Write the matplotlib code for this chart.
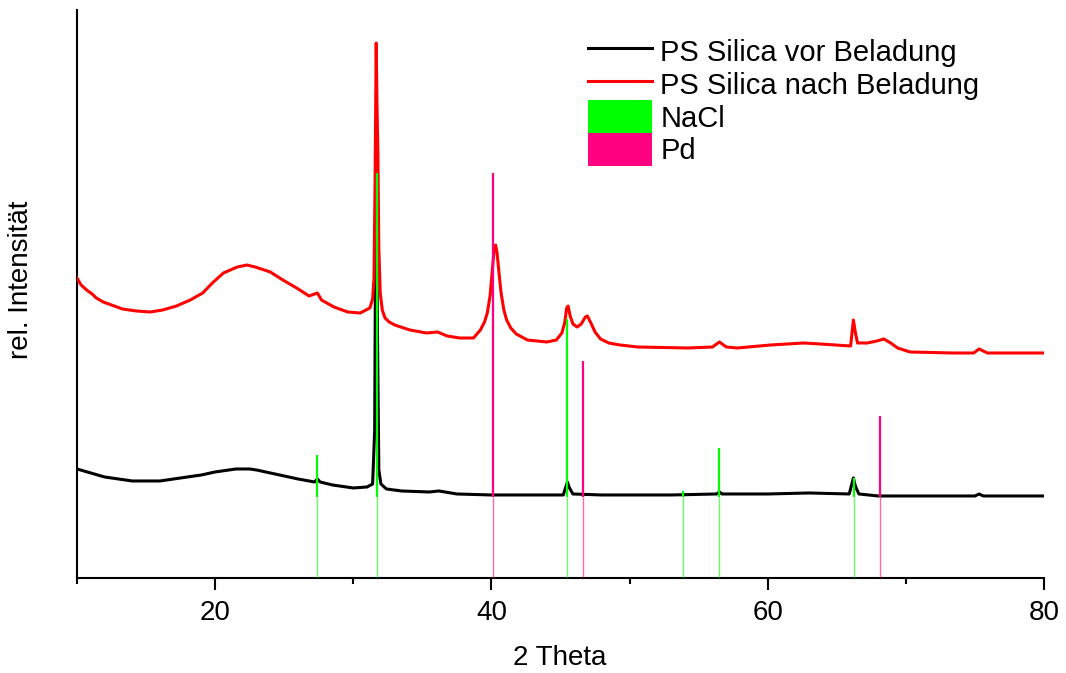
#encoding=utf-8

"""
    XRD-Diffraktogramme PS Silica vor/nach Beladung mit Referenzlinien NaCl und Pd
"""
import matplotlib
matplotlib.use("Agg")
import matplotlib.pyplot as plt
import matplotlib.patches as mpatches
from matplotlib.ticker import FixedLocator

plt.rcParams['font.family'] = ['Liberation Sans', 'DejaVu Sans']

# PS Silica vor Beladung (2 Theta, rel. Intensitaet)
theta_vor = [10, 10.5, 11, 12, 13, 14, 15, 16, 17, 18, 19, 20, 21, 21.5, 22.5, 23,
             24, 25, 26, 27.2, 27.4, 27.6, 28.5, 30, 31, 31.4, 31.55, 31.65, 31.75,
             31.85, 32.0, 32.4, 33.5, 35.5, 36.2, 37.5, 40, 45.2, 45.5, 45.65, 45.9,
             48, 53, 56.3, 56.5, 56.7, 60, 63, 65.9, 66.2, 66.3, 66.4, 66.6, 68, 75,
             75.3, 75.6, 80]
int_vor = [109, 107, 105, 101, 99, 97, 97, 97, 99, 101, 103, 106, 108, 109, 109, 108,
           105, 102, 99, 96, 99, 96, 93, 90, 91, 94, 148, 438, 248,
           108, 94, 89, 87, 86, 87, 84, 83, 83, 96, 90, 84,
           83, 83, 84, 86, 84, 84, 85, 84, 100, 94, 90, 84, 82, 82,
           84, 82, 82]

# PS Silica nach Beladung
theta_nach = [10.0, 10.3, 10.7, 11.1, 11.4, 11.9, 12.7, 13.3, 14.3, 15.3, 16.2,
              17.2, 18.2, 19.1, 19.8, 20.6, 21.6, 22.3, 22.9, 24.0, 24.9, 25.9,
              26.8, 27.4, 27.7, 28.6, 29.6, 30.5, 31.2, 31.4, 31.5, 31.58, 31.66,
              31.72, 31.78, 31.85, 31.95, 32.1, 32.3, 32.6, 33.0, 34.1, 35.3, 36.1,
              36.8, 37.7, 38.7, 39.2, 39.5, 39.7, 39.9, 40.05, 40.2, 40.3, 40.4,
              40.55, 40.7, 40.9, 41.1, 41.4, 41.8, 42.6, 44.0, 44.7, 45.1, 45.3,
              45.45, 45.55, 45.7, 45.9, 46.2, 46.5, 46.8, 46.95, 47.2, 47.5, 47.9,
              48.5, 49.3, 50.6, 54.2, 56.0, 56.5, 57.0, 57.8, 60.2, 62.6, 63.8,
              66.0, 66.2, 66.35, 66.5, 67.2, 67.9, 68.4, 68.9, 69.4, 70.3, 73.4,
              74.9, 75.3, 75.9, 80]
int_nach = [300, 293, 288, 284, 280, 276, 272, 269, 267, 266, 268,
            272, 278, 285, 295, 305, 311, 313, 311, 306, 298, 290,
            282, 285, 278, 271, 266, 265, 270, 279, 300, 400, 535,
            470, 428, 330, 285, 268, 260, 256, 253, 248, 245, 246,
            242, 240, 240, 248, 256, 265, 282, 305, 330, 333, 326,
            305, 285, 268, 258, 250, 244, 238, 236, 238, 245, 255,
            270, 272, 262, 254, 251, 254, 261, 262, 255, 246, 239,
            235, 233, 231, 230, 231, 236, 231, 230, 233, 235, 234,
            232, 258, 245, 235, 235, 237, 239, 235, 230, 226, 225,
            225, 229, 225, 225]

# Referenzlinien (relative Intensitaet in %)
nacl_theta = [27.37, 31.70, 45.45, 53.87, 56.47, 66.22]
nacl_rel = [13, 100, 55, 2, 15, 6]
pd_theta = [40.12, 46.66, 68.12]
pd_rel = [100, 42, 25]

GREEN = '#00ff00'
PINK = '#ff0080'


def drawSticks(ax, theta, rel, color, base=81, scale=324):
    """
    Referenzlinien: duenn bis zur Basislinie, darueber dick
    """
    tops = [base + r / 100.0 * scale for r in rel]
    ax.vlines(theta, 0, base, color=color, linewidth=1.0, alpha=0.6, zorder=4)
    ax.vlines(theta, base, tops, color=color, linewidth=1.6, zorder=4)


def plotXRD():
    fig = plt.figure(figsize=(10.66, 6.73), dpi=100)
    ax = fig.add_axes([0.0722, 0.1412, 0.9072, 0.8439])

    ax.plot(theta_vor, int_vor, color='black', linewidth=2.2, zorder=2,
            label='PS Silica vor Beladung')
    ax.plot(theta_nach, int_nach, color='#ff0000', linewidth=2.2, zorder=3,
            label='PS Silica nach Beladung')
    drawSticks(ax, nacl_theta, nacl_rel, GREEN)
    drawSticks(ax, pd_theta, pd_rel, PINK)

    ax.set_xlim(10, 80)
    ax.set_ylim(0, 568)
    ax.xaxis.set_major_locator(FixedLocator([20, 40, 60, 80]))
    ax.xaxis.set_minor_locator(FixedLocator([10, 30, 50, 70]))
    ax.set_yticks([])
    ax.spines['top'].set_visible(False)
    ax.spines['right'].set_visible(False)
    ax.spines['left'].set_linewidth(1.5)
    ax.spines['bottom'].set_linewidth(1.5)
    ax.tick_params(axis='x', which='major', length=8.6, width=1.5, pad=7,
                   labelsize=20, direction='out')
    ax.tick_params(axis='x', which='minor', length=4.3, width=1.5, direction='out')

    ax.set_xlabel('2 Theta', fontsize=20)
    ax.set_ylabel('rel. Intensität', fontsize=20)
    ax.xaxis.set_label_coords(0.4995, -0.118)
    ax.yaxis.set_label_coords(-0.0445, 0.525)

    handles, labels = ax.get_legend_handles_labels()
    handles += [mpatches.Patch(color=GREEN, linewidth=0),
                mpatches.Patch(color=PINK, linewidth=0)]
    labels += ['NaCl', 'Pd']
    ax.legend(handles, labels, loc='upper left', bbox_to_anchor=(0.528, 0.956),
              frameon=False, fontsize=21, borderpad=0, labelspacing=0,
              handlelength=2.2, handleheight=1.35, handletextpad=0.3,
              borderaxespad=0)

    fig.savefig('out.png', dpi=100)


if __name__ == "__main__":
    plotXRD()
